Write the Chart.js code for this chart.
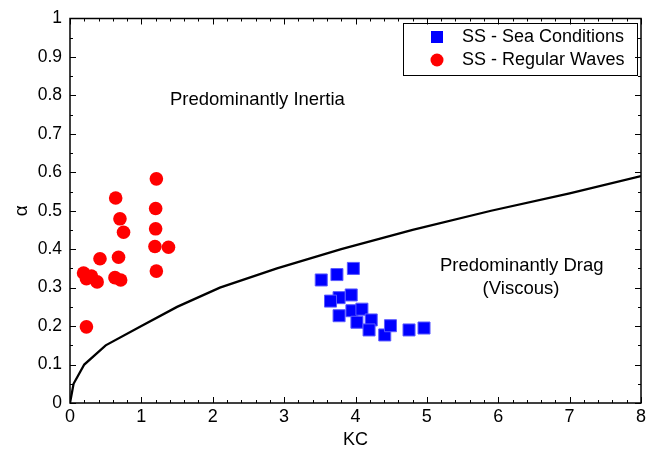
<!DOCTYPE html>
<html>
<head>
<meta charset="utf-8">
<script src="https://cdn.jsdelivr.net/npm/chart.js@4.4.0/dist/chart.umd.min.js"></script>
<style>
  html, body { margin: 0; padding: 0; background: #fff; }
  #wrap { width: 659px; height: 457px; }
</style>
</head>
<body>
<div id="wrap"><canvas id="kcChart" width="659" height="457"></canvas></div>
<script>
// Sea conditions (blue squares)
const seaKC = [3.97, 3.74, 3.52, 3.94, 3.77, 3.65, 3.77, 3.95, 4.09, 4.02, 4.22, 4.19, 4.41, 4.49, 4.75, 4.96];
const seaAlpha = [0.350, 0.334, 0.320, 0.281, 0.274, 0.265, 0.227, 0.240, 0.244, 0.210, 0.216, 0.190, 0.177, 0.201, 0.190, 0.195];

// Regular waves (red circles)
const regKC = [1.21, 0.64, 1.20, 0.70, 0.75, 1.20, 1.19, 1.38, 0.42, 0.68, 1.21, 0.19, 0.23, 0.30, 0.38, 0.63, 0.71, 0.23];
const regAlpha = [0.583, 0.533, 0.506, 0.479, 0.444, 0.453, 0.407, 0.405, 0.375, 0.379, 0.343, 0.338, 0.323, 0.330, 0.315, 0.326, 0.320, 0.198];

// Boundary line between inertia and drag regimes
const lineKC = [0, 0.05, 0.2, 0.5, 1, 1.5, 2.1, 2.9, 3.8, 4.8, 5.9, 7, 8];
const lineAlpha = [0, 0.05, 0.1, 0.15, 0.2, 0.25, 0.3, 0.35, 0.4, 0.45, 0.5, 0.545, 0.59];

const xTicks = [0, 1, 2, 3, 4, 5, 6, 7, 8];
const yTicks = [0, 0.1, 0.2, 0.3, 0.4, 0.5, 0.6, 0.7, 0.8, 0.9, 1];

const toPoints = (xs, ys) => xs.map((x, i) => ({ x: x, y: ys[i] }));
const FONT = "'Liberation Sans', Arial, sans-serif";

// frame, inward ticks, legend box and region labels
const decorations = {
    id: "decorations",
    afterDraw(chart) {
        const ctx = chart.ctx;
        const a = chart.chartArea;
        const xs = chart.scales.x, ys = chart.scales.y;
        ctx.save();
        ctx.strokeStyle = "#000";
        ctx.lineWidth = 1.5;
        ctx.strokeRect(a.left, a.top, a.right - a.left, a.bottom - a.top);

        ctx.lineWidth = 1;
        ctx.beginPath();
        for (let v = 0; v <= 8.0001; v += 0.2) {
            const px = Math.round(xs.getPixelForValue(v)) + 0.5;
            const len = Math.abs(v - Math.round(v)) < 1e-6 ? 6 : 3;
            ctx.moveTo(px, a.bottom); ctx.lineTo(px, a.bottom - len);
            ctx.moveTo(px, a.top); ctx.lineTo(px, a.top + len);
        }
        for (let v = 0; v <= 1.0001; v += 0.05) {
            const py = Math.round(ys.getPixelForValue(v)) + 0.5;
            const major = Math.abs(v * 10 - Math.round(v * 10)) < 1e-6;
            const len = major ? 6 : 3;
            ctx.moveTo(a.left, py); ctx.lineTo(a.left + len, py);
            ctx.moveTo(a.right, py); ctx.lineTo(a.right - len, py);
        }
        ctx.stroke();

        // legend
        ctx.lineWidth = 1;
        ctx.strokeRect(403.5, 23.5, 234, 52);
        ctx.fillStyle = "#0000ff";
        ctx.fillRect(431, 31, 12, 12);
        ctx.fillStyle = "#ff0000";
        ctx.beginPath();
        ctx.arc(437, 60, 6.5, 0, Math.PI * 2);
        ctx.fill();
        ctx.fillStyle = "#000";
        ctx.font = "18px " + FONT;
        ctx.textBaseline = "middle";
        ctx.textAlign = "left";
        ctx.fillText("SS - Sea Conditions", 462, 37);
        ctx.fillText("SS - Regular Waves", 462, 60);

        // region labels
        ctx.font = "18.5px " + FONT;
        ctx.fillText("Predominantly Inertia", 170, 100);
        ctx.fillText("Predominantly Drag", 440, 266);
        ctx.textAlign = "center";
        ctx.fillText("(Viscous)", 521, 289);
        ctx.restore();
    }
};

new Chart(document.getElementById("kcChart"), {
    type: "scatter",
    data: {
        datasets: [{
            label: "boundary",
            data: toPoints(lineKC, lineAlpha),
            showLine: true,
            borderColor: "#000",
            borderWidth: 2.3,
            pointRadius: 0,
            tension: 0
        }, {
            label: "SS - Sea Conditions",
            data: toPoints(seaKC, seaAlpha),
            pointStyle: "rect",
            pointRadius: 8.5,
            backgroundColor: "#0000ff",
            borderColor: "rgba(90,90,255,1)",
            borderWidth: 1
        }, {
            label: "SS - Regular Waves",
            data: toPoints(regKC, regAlpha),
            pointStyle: "circle",
            pointRadius: 6.8,
            backgroundColor: "#ff0000",
            borderColor: "#ff0000",
            borderWidth: 0
        }]
    },
    options: {
        responsive: false,
        animation: false,
        layout: { padding: { left: 0, top: 15, right: 18, bottom: 0 } },
        scales: {
            x: {
                type: "linear",
                min: 0,
                max: 8,
                afterFit(scale) { scale.height = 54; },
                afterBuildTicks(scale) { scale.ticks = xTicks.map(v => ({ value: v })); },
                grid: { display: false, drawTicks: false },
                border: { display: false },
                ticks: { color: "#000", font: { family: FONT, size: 18 }, padding: 3, callback: v => String(v) },
                title: { display: true, text: "KC", color: "#000", font: { family: FONT, size: 18 }, padding: { bottom: 6 } }
            },
            y: {
                type: "linear",
                min: 0,
                max: 1,
                afterFit(scale) { scale.width = 70; },
                afterBuildTicks(scale) { scale.ticks = yTicks.map(v => ({ value: v })); },
                grid: { display: false, drawTicks: false },
                border: { display: false },
                ticks: { color: "#000", font: { family: FONT, size: 17.5 }, padding: 8, callback: v => String(+v.toFixed(2)) },
                title: { display: true, text: "α", color: "#000", font: { family: FONT, size: 19 }, padding: { top: 10 } }
            }
        },
        plugins: {
            legend: { display: false },
            tooltip: { enabled: false }
        }
    },
    plugins: [decorations]
});
</script>
</body>
</html>
